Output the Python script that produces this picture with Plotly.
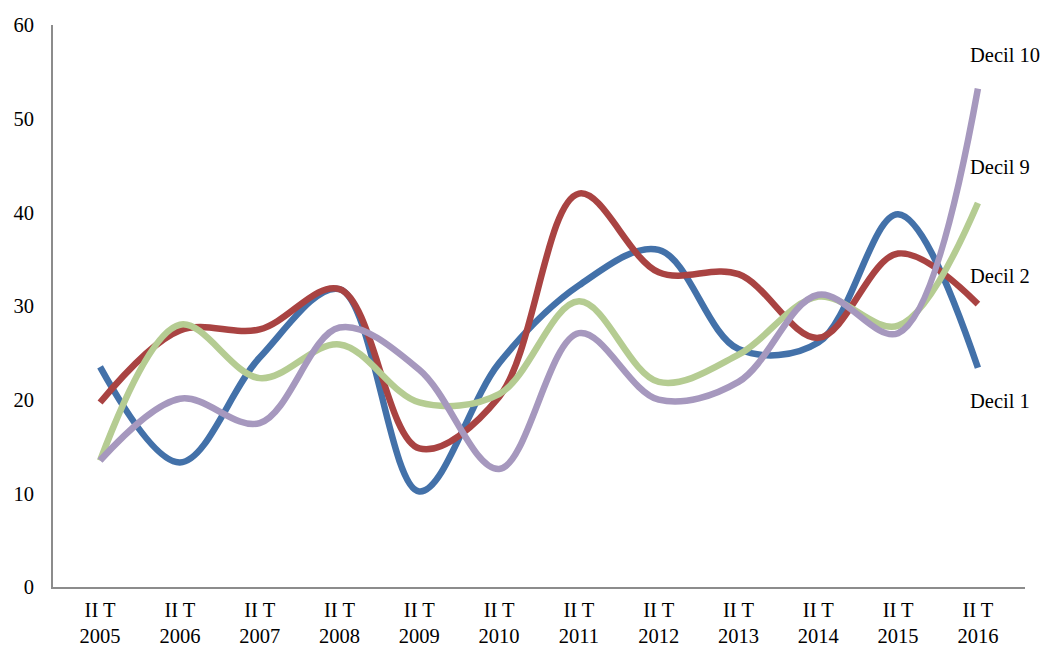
import plotly.graph_objects as go

categories = ["II T<br>2005", "II T<br>2006", "II T<br>2007", "II T<br>2008",
              "II T<br>2009", "II T<br>2010", "II T<br>2011", "II T<br>2012",
              "II T<br>2013", "II T<br>2014", "II T<br>2015", "II T<br>2016"]

decil_1 = [23.5, 13.3, 24.5, 31.8, 10.2, 23.9, 32.2, 36.0, 25.4, 26.1, 39.8, 23.4]
decil_2 = [19.7, 27.4, 27.5, 31.8, 14.8, 20.3, 42.0, 33.6, 33.4, 26.6, 35.6, 30.2]
decil_9 = [13.5, 28.0, 22.3, 25.9, 19.7, 20.6, 30.5, 21.9, 24.8, 31.0, 27.9, 41.0]
decil_10 = [13.5, 20.1, 17.5, 27.7, 23.2, 12.6, 27.1, 20.0, 21.9, 31.2, 27.1, 53.2]

series = [
    ("Decil 1", decil_1, "#4371A9"),
    ("Decil 2", decil_2, "#A94342"),
    ("Decil 9", decil_9, "#B5CC92"),
    ("Decil 10", decil_10, "#A698BE"),
]

label_y = {"Decil 10": 56.8, "Decil 9": 44.8, "Decil 2": 33.2, "Decil 1": 19.9}

FONT = "Liberation Serif"

fig = go.Figure()
for name, vals, color in series:
    fig.add_trace(go.Scatter(
        x=categories, y=vals, mode="lines", name=name,
        line=dict(color=color, width=6.5, shape="spline", smoothing=1.0),
    ))

for name, vals, color in series:
    fig.add_annotation(
        x=categories[-1], y=label_y[name], xref="x", yref="y",
        text=name, showarrow=False, xanchor="left", xshift=-10,
        font=dict(family=FONT, size=20.5, color="#000000"),
    )

fig.update_layout(
    width=1043, height=647,
    margin=dict(l=53, r=18, t=25, b=60),
    paper_bgcolor="white", plot_bgcolor="white",
    showlegend=False,
    font=dict(family=FONT, size=20.5, color="#000000"),
    xaxis=dict(
        type="category", showgrid=False, zeroline=False,
        showline=True, linecolor="#8C8C8C", linewidth=2,
        ticks="", tickfont=dict(family=FONT, size=20.5),
        range=[-0.59, 11.59], automargin=False, ticklabelstandoff=3,
    ),
    yaxis=dict(
        range=[0, 60], dtick=10, showgrid=False, zeroline=False,
        showline=True, linecolor="#8C8C8C", linewidth=2,
        ticks="", tickfont=dict(family=FONT, size=20.5),
        ticklabelstandoff=13, automargin=False,
    ),
)

fig.write_html("out.html", config={"displayModeBar": False},
               post_script="document.body.style.margin='0px';")
